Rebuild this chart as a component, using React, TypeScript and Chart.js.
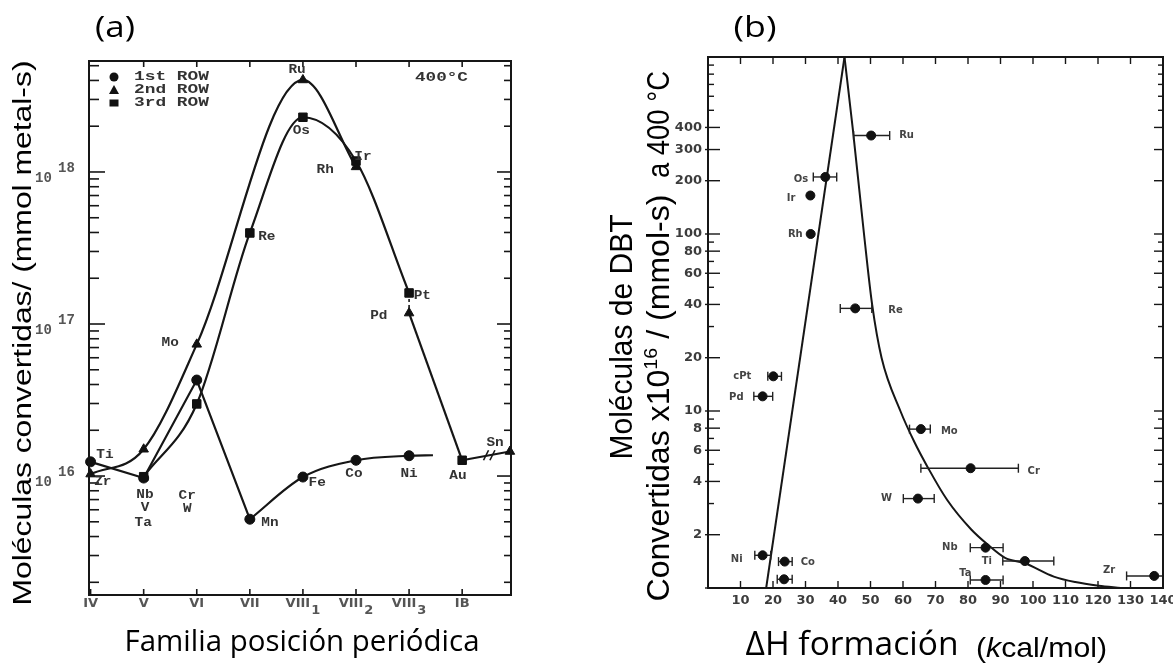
import React, { useEffect, useRef } from 'react';
import { Chart, registerables } from 'chart.js';

Chart.register(...registerables);

// ---------------- Panel (a): activity vs. periodic position ----------------
const groupLabels = ['IV', 'V', 'VI', 'VII', 'VIII', 'VIII', 'VIII', 'IB'];
const groupSubs = ['', '', '', '', '1', '2', '3', ''];
const yExpA = [16, 17, 18];
const legendA = ['1st ROW', '2nd ROW', '3rd ROW'];

const row1Names = ['Ti', 'V', 'Cr', 'Mn', 'Fe', 'Co', 'Ni'];
const row1X = [0, 1, 2, 3, 4, 5, 6];
const row1Y = [1.24e16, 9.7e15, 4.28e16, 5.2e15, 9.85e15, 1.27e16, 1.36e16];
const row1EndX = 6.45;
const row1EndY = 1.37e16;

const row2Names = ['Zr', 'Nb', 'Mo', 'Ru', 'Rh', 'Pd'];
const row2X = [0, 1, 2, 4, 5, 6];
const row2Y = [1.03e16, 1.5e16, 7.35e16, 4.03e18, 1.08e18, 1.18e17];

const row3Names = ['Ta', 'W', 'Re', 'Os', 'Ir', 'Pt'];
const row3X = [1, 2, 3, 4, 5, 6];
const row3Y = [9.9e15, 2.98e16, 3.97e17, 2.29e18, 1.18e18, 1.6e17];

const auX = 7;
const auY = 1.27e16;
const snX = 7.9;
const snY = 1.45e16;

// element labels of panel (a): text, x (group units), y (value)
const labelsA: [string, number, number][] = [
  ['Ti', 0.27, 1.375e16], ['Zr', 0.23, 9.13e15], ['Nb', 1.025, 7.5e15], ['V', 1.025, 6.15e15],
  ['Ta', 0.99, 4.91e15], ['Cr', 1.82, 7.39e15], ['W', 1.82, 6.07e15], ['Mo', 1.5, 7.5e16],
  ['Mn', 3.38, 4.91e15], ['Fe', 4.27, 8.99e15], ['Co', 4.96, 1.03e16], ['Ni', 6.0, 1.03e16],
  ['Au', 6.92, 1.0e16], ['Sn', 7.62, 1.65e16], ['Pd', 5.43, 1.13e17], ['Ru', 3.89, 4.69e18],
  ['Os', 3.97, 1.86e18], ['Rh', 4.42, 1.03e18], ['Ir', 5.13, 1.26e18], ['Re', 3.32, 3.73e17],
  ['Pt', 6.25, 1.53e17],
];

// ---------------- Panel (b): volcano plot ----------------
const namesB = ['Ru', 'Os', 'Ir', 'Rh', 'Re', 'cPt', 'Pd', 'Mo', 'Cr', 'W', 'Nb', 'Ti', 'Ta', 'Zr', 'Ni', 'Co', ''];
const dHB = [50.2, 36.1, 31.5, 31.6, 45.3, 20.1, 16.8, 65.5, 80.8, 64.6, 85.4, 97.5, 85.4, 137.3, 16.8, 23.6, 23.4];
const rateB = [360, 210, 165, 100, 38, 15.7, 12.1, 7.9, 4.75, 3.2, 1.69, 1.42, 1.11, 1.17, 1.53, 1.41, 1.12];
const errLoB: (number | null)[] = [44.8, 32.4, null, null, 40.7, 18.4, 14.1, 62, 65.5, 60.1, 80.7, 90.7, 80.7, 128.8, 14.4, 21.7, 21.3];
const errHiB: (number | null)[] = [55.9, 39.6, null, null, 50.4, 22.6, 19.9, 68.4, 95.5, 69.6, 90.8, 106.4, 90.8, 141, 19.3, 25.9, 25.9];
// label placement (pixel offset from the point, alignment)
const labelDxB = [28, -17, -15, -8, 33, -22, -19, 20, 57, -26, -28, -33, -14, -39, -20, 16, 0];
const labelDyB = [0, 2, 3, 0, 2, 0, 1, 2, 3, 0, 0, 0, -7, -6, 4, 1, 0];
const labelAlB: ('left' | 'right')[] = ['left', 'right', 'right', 'right', 'left', 'right', 'right', 'left', 'left', 'right', 'right', 'right', 'right', 'right', 'right', 'left', 'left'];

const volcLeftX = [17.9, 42];
const volcLeftY = [1, 1000];
const volcRightX = [42, 44.5, 48, 50.5, 53.4, 59.2, 63.5, 67.8, 73.6, 81, 86.2, 91.4, 97.5, 106.4, 113, 120.2, 127];
const volcRightY = [1000, 400, 100, 40, 20, 10, 6.68, 4.74, 3.14, 2.14, 1.75, 1.48, 1.38, 1.16, 1.08, 1.03, 1.0];

const xTicksB = [10, 20, 30, 40, 50, 60, 70, 80, 90, 100, 110, 120, 130];
const yTicksB = [2, 4, 6, 8, 10, 20, 40, 60, 80, 100, 200, 300, 400];

const INK = '#161616';

// ---------------- helpers ----------------
type Run = { t: string; f: string; rise?: number };
type TxtOpt = { align?: 'left' | 'center' | 'right'; rot?: boolean; len?: number; sx?: number; base?: CanvasTextBaseline; color?: string };

function drawRuns(ctx: CanvasRenderingContext2D, runs: Run[], x: number, y: number, o: TxtOpt = {}) {
  ctx.save();
  const ws = runs.map((r) => { ctx.font = r.f; return ctx.measureText(r.t).width; });
  const tot = ws.reduce((a, b) => a + b, 0);
  const sx = o.len ? o.len / tot : (o.sx ?? 1);
  ctx.translate(x, y);
  if (o.rot) ctx.rotate(-Math.PI / 2);
  ctx.scale(sx, 1);
  let cx = o.align === 'left' ? 0 : o.align === 'right' ? -tot : -tot / 2;
  ctx.textAlign = 'left';
  ctx.textBaseline = o.base ?? 'alphabetic';
  ctx.fillStyle = o.color ?? '#000';
  runs.forEach((r, i) => { ctx.font = r.f; ctx.fillText(r.t, cx, -(r.rise ?? 0)); cx += ws[i]; });
  ctx.restore();
}

const pts = (xs: number[], ys: number[]) => xs.map((x, i) => ({ x, y: ys[i] }));

const lineDs = (data: { x: number; y: number }[], mono: boolean, extra: any = {}) => ({
  data,
  borderColor: INK,
  borderWidth: 2.2,
  pointRadius: 0,
  fill: false,
  tension: mono ? 0.4 : 0,
  cubicInterpolationMode: mono ? 'monotone' : 'default',
  ...extra,
});

const markDs = (data: { x: number; y: number }[], style: any, r: number, extra: any = {}) => ({
  data,
  showLine: false,
  pointStyle: style,
  pointRadius: r,
  pointBackgroundColor: '#111',
  pointBorderColor: '#111',
  pointBorderWidth: 1,
  clip: false,
  ...extra,
});

// ---------------- plugins ----------------
const pluginA = {
  id: 'panelA',
  afterDraw(chart: any) {
    const ctx: CanvasRenderingContext2D = chart.ctx;
    const ca = chart.chartArea;
    const xs = chart.scales.x;
    const ys = chart.scales.y;
    const X = (v: number) => xs.getPixelForValue(v);
    const Y = (v: number) => ys.getPixelForValue(v);
    const seg = (x1: number, y1: number, x2: number, y2: number) => { ctx.beginPath(); ctx.moveTo(x1, y1); ctx.lineTo(x2, y2); ctx.stroke(); };
    ctx.save();
    ctx.strokeStyle = INK;
    ctx.lineWidth = 2;
    ctx.strokeRect(ca.left, ca.top, ca.right - ca.left, ca.bottom - ca.top);
    ctx.lineWidth = 1.6;
    for (let e = 15; e <= 18; e++) {
      for (let m = 1; m <= 9; m++) {
        const v = m * Math.pow(10, e);
        if (v < ys.min || v > ys.max) continue;
        const py = Y(v);
        const major = m === 1;
        seg(ca.left, py, ca.left + (major ? 16 : 10), py);
        seg(ca.right - (major ? 14 : 7), py, ca.right, py);
      }
    }
    groupLabels.forEach((_, i) => {
      const px = X(i);
      seg(px, ca.bottom, px, ca.bottom - 6);
      if (i > 0) seg(px, ca.top, px, ca.top + 6);
    });
    // y tick labels 10^n
    const mono = 'bold 14px "Liberation Mono"';
    yExpA.forEach((e) => {
      const py = Y(Math.pow(10, e));
      drawRuns(ctx, [{ t: '10', f: mono }], 35, py + 6, { align: 'left', base: 'middle', color: '#555' });
      drawRuns(ctx, [{ t: String(e), f: mono }], 58, py - 4, { align: 'left', base: 'middle', color: '#555' });
    });
    // x tick labels with subscripts
    const lf = 'bold 13px "DejaVu Sans"';
    groupLabels.forEach((g, i) => {
      const px = X(i);
      ctx.font = lf;
      const w1 = ctx.measureText(g).width;
      const sub = groupSubs[i];
      const w2 = sub ? ctx.measureText(sub).width + 1 : 0;
      const x0 = px - (w1 + w2) / 2;
      drawRuns(ctx, [{ t: g, f: lf }], x0, ca.bottom + 9, { align: 'left', base: 'middle', color: '#555' });
      if (sub) drawRuns(ctx, [{ t: sub, f: lf }], x0 + w1 + 1, ca.bottom + 16, { align: 'left', base: 'middle', color: '#555' });
    });
    // element labels
    const ef = 'bold 12px "Liberation Mono"';
    labelsA.forEach(([t, vx, vy]) => {
      drawRuns(ctx, [{ t, f: ef }], X(vx), Y(vy), { align: 'center', base: 'middle', sx: 1.2, color: '#333' });
    });
    // legend
    const lx = ca.left + 25;
    const rows = [ca.top + 16, ca.top + 29, ca.top + 42];
    ctx.fillStyle = '#111';
    ctx.beginPath(); ctx.arc(lx, rows[0], 4.5, 0, Math.PI * 2); ctx.fill();
    ctx.beginPath(); ctx.moveTo(lx, rows[1] - 5); ctx.lineTo(lx - 5, rows[1] + 4); ctx.lineTo(lx + 5, rows[1] + 4); ctx.closePath(); ctx.fill();
    ctx.fillRect(lx - 4.5, rows[2] - 3.5, 9, 7);
    legendA.forEach((t, i) => {
      drawRuns(ctx, [{ t, f: 'bold 13px "Liberation Mono"' }], ca.left + 45, rows[i], { align: 'left', base: 'middle', len: 75, color: '#333' });
    });
    drawRuns(ctx, [{ t: '400°C', f: 'bold 13px "Liberation Mono"' }], X(6.61), Y(4.15e18), { align: 'center', base: 'middle', len: 53, color: '#333' });
    // axis break marks between Au and Sn
    ctx.lineWidth = 1.6;
    [7.45, 7.57].forEach((bx) => { const px = X(bx); const py = Y(1.37e16); seg(px - 2.5, py + 5, px + 2.5, py - 5); });
    // titles
    drawRuns(ctx, [{ t: '(a)', f: '30px "Open Sans"' }], 115, 37, { align: 'center', len: 40 });
    drawRuns(ctx, [{ t: 'Moléculas convertidas/ (mmol metal-s)', f: '25px "Liberation Sans"' }], 31, 333, { rot: true, len: 545 });
    drawRuns(ctx, [{ t: 'Familia posición periódica', f: '30px "Open Sans"' }], 302, 651, { len: 355 });
    ctx.restore();
  },
};

const OFFB = 580;
const pluginB = {
  id: 'panelB',
  afterDraw(chart: any) {
    const ctx: CanvasRenderingContext2D = chart.ctx;
    const ca = chart.chartArea;
    const xs = chart.scales.x;
    const ys = chart.scales.y;
    const X = (v: number) => xs.getPixelForValue(v);
    const Y = (v: number) => ys.getPixelForValue(v);
    const seg = (x1: number, y1: number, x2: number, y2: number) => { ctx.beginPath(); ctx.moveTo(x1, y1); ctx.lineTo(x2, y2); ctx.stroke(); };
    ctx.save();
    ctx.strokeStyle = INK;
    ctx.lineWidth = 2;
    ctx.strokeRect(ca.left, ca.top, ca.right - ca.left, ca.bottom - ca.top);
    ctx.lineWidth = 1.4;
    for (let e = 0; e <= 2; e++) {
      for (let m = 1; m <= 9; m++) {
        const v = m * Math.pow(10, e);
        const py = Y(v);
        const big = m === 1 || yTicksB.includes(v);
        if (big) seg(ca.left - 3, py, ca.left + 12, py); else seg(ca.left, py, ca.left + 6, py);
        seg(ca.right - (big ? 9 : 5), py, ca.right, py);
      }
    }
    xTicksB.forEach((v) => {
      const px = X(v);
      seg(px, ca.bottom, px, ca.bottom - 7);
      seg(px, ca.top, px, ca.top + 7);
    });
    // element labels
    const ef = 'bold 10px "DejaVu Sans"';
    namesB.forEach((n, i) => {
      if (!n) return;
      drawRuns(ctx, [{ t: n, f: ef }], X(dHB[i]) + labelDxB[i], Y(rateB[i]) + labelDyB[i], { align: labelAlB[i], base: 'middle', color: '#444' });
    });
    // titles
    drawRuns(ctx, [{ t: '(b)', f: '30px "Open Sans"' }], 755 - OFFB, 37, { align: 'center', len: 43 });
    drawRuns(ctx, [{ t: 'Moléculas de DBT', f: '31px "Liberation Sans"' }], 632 - OFFB, 337, { rot: true, len: 245 });
    drawRuns(ctx, [
      { t: 'Convertidas x10', f: '31px "Liberation Sans"' },
      { t: '16', f: '19px "Liberation Sans"', rise: 12 },
      { t: ' / (mmol-s)', f: '31px "Liberation Sans"' },
    ], 669 - OFFB, 398, { rot: true, len: 407 });
    drawRuns(ctx, [{ t: 'a 400 °C', f: '31px "Liberation Sans"' }], 669 - OFFB, 124.5, { rot: true, len: 107 });
    drawRuns(ctx, [{ t: 'ΔH formación', f: '32px "Open Sans"' }], 852 - OFFB, 655, { len: 213 });
    drawRuns(ctx, [
      { t: '(', f: '28px "Liberation Sans"' },
      { t: 'k', f: 'italic 28px "Liberation Sans"' },
      { t: 'cal/mol)', f: '28px "Liberation Sans"' },
    ], 1041.5 - OFFB, 657, { len: 131 });
    ctx.restore();
  },
};

// ---------------- configs ----------------
function configA(): any {
  const row1Pts = pts(row1X, row1Y);
  const row2Pts = pts(row2X, row2Y);
  const row3Pts = pts(row3X, row3Y);
  const au = { x: auX, y: auY };
  const sn = { x: snX, y: snY };
  return {
    type: 'line',
    data: {
      datasets: [
        markDs(row1Pts, 'circle', 5),
        markDs([...row2Pts, sn], 'triangle', 5.5),
        markDs([...row3Pts, au], 'rect', 6),
        lineDs(row1Pts.slice(0, 4), false),
        lineDs([...row1Pts.slice(3), { x: row1EndX, y: row1EndY }], true),
        lineDs(row2Pts.slice(0, 5), true),
        lineDs([row2Pts[5], au], false),
        lineDs(row3Pts, true),
        lineDs([au, sn], false),
        lineDs([row3Pts[5], row2Pts[5]], false, { borderDash: [3, 3], borderWidth: 1.6 }),
      ],
    },
    options: {
      animation: false,
      responsive: false,
      layout: { padding: { left: 0, right: 69, top: 61, bottom: 0 }, autoPadding: false },
      plugins: { legend: { display: false }, tooltip: { enabled: false } },
      scales: {
        x: {
          type: 'linear', min: -0.03, max: 7.92,
          grid: { display: false, drawTicks: false }, border: { display: false }, ticks: { display: false },
          afterFit: (s: any) => { s.height = 69; s.paddingLeft = 0; s.paddingRight = 0; },
        },
        y: {
          type: 'logarithmic', min: 1.65e15, max: 5.37e18,
          grid: { display: false, drawTicks: false }, border: { display: false }, ticks: { display: false },
          afterFit: (s: any) => { s.width = 89; s.paddingTop = 0; s.paddingBottom = 0; },
        },
      },
    },
    plugins: [pluginA],
  };
}

function configB(): any {
  const errSets: any[] = [];
  dHB.forEach((_, i) => {
    const lo = errLoB[i];
    const hi = errHiB[i];
    if (lo == null || hi == null) return;
    errSets.push({
      data: [{ x: lo, y: rateB[i] }, { x: hi, y: rateB[i] }],
      borderColor: '#222',
      borderWidth: 1.4,
      pointStyle: 'line',
      rotation: 90,
      pointRotation: 90,
      pointRadius: 4.5,
      pointBorderWidth: 1.4,
      pointBorderColor: '#222',
      pointBackgroundColor: '#222',
      tension: 0,
    });
  });
  const tickFont = { family: 'DejaVu Sans', size: 13, weight: 'bold' };
  return {
    type: 'line',
    data: {
      datasets: [
        markDs(pts(dHB, rateB), 'circle', 4.5, { clip: undefined }),
        ...errSets,
        lineDs(pts(volcLeftX, volcLeftY), false, { borderWidth: 2 }),
        lineDs(pts(volcRightX, volcRightY), true, { borderWidth: 2 }),
      ],
    },
    options: {
      animation: false,
      responsive: false,
      layout: { padding: { left: 0, right: 10, top: 57, bottom: 0 }, autoPadding: false },
      plugins: { legend: { display: false }, tooltip: { enabled: false } },
      scales: {
        x: {
          type: 'linear', min: 0, max: 140,
          grid: { display: false, drawTicks: false }, border: { display: false },
          ticks: {
            stepSize: 10, autoSkip: false, maxRotation: 0, minRotation: 0, padding: 5,
            color: '#3c3c3c', font: tickFont,
            callback: (v: any) => (Number(v) === 0 ? '' : String(v)),
          },
          afterFit: (s: any) => { s.height = 76; s.paddingLeft = 0; s.paddingRight = 0; },
        },
        y: {
          type: 'logarithmic', min: 1, max: 1000,
          grid: { display: false, drawTicks: false }, border: { display: false },
          afterBuildTicks: (s: any) => { s.ticks = yTicksB.map((v) => ({ value: v })); },
          ticks: {
            autoSkip: false, padding: 6, color: '#3c3c3c', font: tickFont,
            callback: (v: any) => String(v),
          },
          afterFit: (s: any) => { s.width = 128; s.paddingTop = 0; s.paddingBottom = 0; },
        },
      },
    },
    plugins: [pluginB],
  };
}

export default function App() {
  const refA = useRef<HTMLCanvasElement>(null);
  const refB = useRef<HTMLCanvasElement>(null);
  useEffect(() => {
    const a = new Chart(refA.current as HTMLCanvasElement, configA());
    const b = new Chart(refB.current as HTMLCanvasElement, configB());
    return () => { a.destroy(); b.destroy(); };
  }, []);
  return (
    <div style={{ position: 'absolute', left: 0, top: 0, width: 1173, height: 664, background: '#fff', overflow: 'hidden' }}>
      <canvas ref={refA} width={580} height={664} style={{ position: 'absolute', left: 0, top: 0, width: 580, height: 664 }} />
      <canvas ref={refB} width={593} height={664} style={{ position: 'absolute', left: 580, top: 0, width: 593, height: 664 }} />
    </div>
  );
}
